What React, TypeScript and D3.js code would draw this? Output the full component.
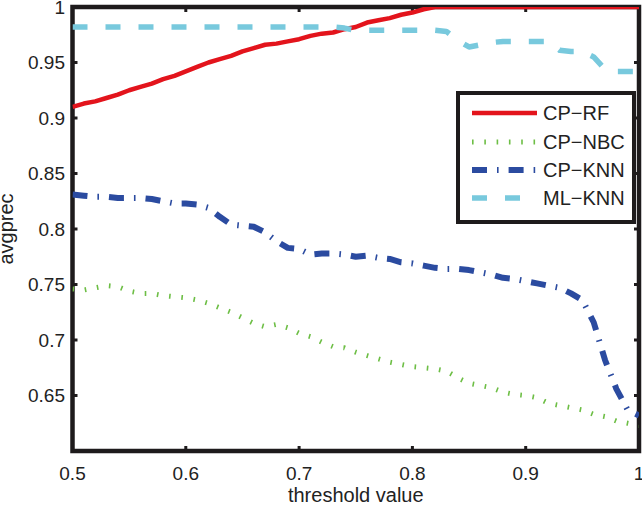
import * as d3 from 'd3'

const thresholds = [
  0.50, 0.51, 0.52, 0.53, 0.54, 0.55, 0.56, 0.57, 0.58, 0.59,
  0.60, 0.61, 0.62, 0.63, 0.64, 0.65, 0.66, 0.67, 0.68, 0.69,
  0.70, 0.71, 0.72, 0.73, 0.74, 0.75, 0.76, 0.77, 0.78, 0.79,
  0.80, 0.81, 0.82, 0.83, 0.84, 0.85, 0.86, 0.87, 0.88, 0.89,
  0.90, 0.91, 0.92, 0.93, 0.94, 0.95, 0.96, 0.97, 0.98, 0.99, 1.00,
]

const cpRF = [
  0.910, 0.913, 0.915, 0.918, 0.921, 0.925, 0.928, 0.931, 0.935, 0.938,
  0.942, 0.946, 0.950, 0.953, 0.956, 0.960, 0.963, 0.966, 0.967, 0.969,
  0.971, 0.974, 0.976, 0.977, 0.980, 0.982, 0.986, 0.988, 0.990, 0.993,
  0.995, 0.998, 1.000, 1.000, 1.000, 1.000, 1.000, 1.000, 1.000, 1.000,
  1.000, 1.000, 1.000, 1.000, 1.000, 1.000, 1.000, 1.000, 1.000, 1.000, 1.000,
]

const cpNBC = [
  0.746, 0.745, 0.747, 0.749, 0.748, 0.744, 0.742, 0.742, 0.740, 0.739,
  0.738, 0.736, 0.733, 0.729, 0.725, 0.720, 0.715, 0.712, 0.714, 0.711,
  0.706, 0.703, 0.698, 0.694, 0.693, 0.689, 0.686, 0.683, 0.680, 0.678,
  0.676, 0.675, 0.674, 0.672, 0.666, 0.661, 0.659, 0.657, 0.653, 0.651,
  0.650, 0.648, 0.643, 0.641, 0.639, 0.637, 0.633, 0.631, 0.627, 0.625, 0.623,
]

const cpKNN = [
  0.831, 0.830, 0.829, 0.829, 0.828, 0.828, 0.828, 0.827, 0.825, 0.823,
  0.823, 0.822, 0.819, 0.811, 0.804, 0.803, 0.802, 0.797, 0.789, 0.783,
  0.782, 0.777, 0.778, 0.778, 0.777, 0.775, 0.776, 0.774, 0.773, 0.770,
  0.769, 0.767, 0.765, 0.764, 0.764, 0.763, 0.761, 0.759, 0.756, 0.755,
  0.753, 0.751, 0.749, 0.747, 0.742, 0.736, 0.716, 0.682, 0.656, 0.637, 0.632,
]

const mlKNN = [
  0.982, 0.982, 0.982, 0.982, 0.982, 0.982, 0.982, 0.982, 0.982, 0.982,
  0.982, 0.982, 0.982, 0.982, 0.982, 0.982, 0.982, 0.982, 0.982, 0.982,
  0.982, 0.982, 0.982, 0.982, 0.981, 0.979, 0.979, 0.979, 0.979, 0.979,
  0.979, 0.979, 0.979, 0.978, 0.970, 0.964, 0.966, 0.968, 0.969, 0.969,
  0.969, 0.969, 0.969, 0.961, 0.960, 0.960, 0.955, 0.944, 0.942, 0.942, 0.942,
]

const xTicks = [0.5, 0.6, 0.7, 0.8, 0.9, 1]
const yTicks = [0.65, 0.7, 0.75, 0.8, 0.85, 0.9, 0.95, 1]

const seriesNames = ['CP\u2212RF', 'CP\u2212NBC', 'CP\u2212KNN', 'ML\u2212KNN']

// line styles roughly matching the matlab export
const styles = [
  { color: '#e3141c', width: 4.5, dash: null },
  { color: '#6dbe45', width: 5, dash: '1.6 10.7' },
  { color: '#2b4ba0', width: 6, dash: '15 10 1.6 10' },
  { color: '#78c9dd', width: 5.5, dash: '15 18' },
]

const FONT = '"Liberation Sans", Arial, Helvetica, sans-serif'

export default function App() {
  const W = 642
  const H = 505
  const left = 72.5
  const right = 639
  const top = 7
  const bottom = 451

  const x = d3.scaleLinear().domain([0.5, 1]).range([left, right])
  const y = d3.scaleLinear().domain([0.6, 1]).range([bottom, top])

  const line = d3.line<[number, number]>()
    .x(d => x(d[0]))
    .y(d => y(d[1]))

  const allSeries = [cpRF, cpNBC, cpKNN, mlKNN]
  const frameColor = '#1e1b1c'

  // legend box
  const lg = { x0: 458, y0: 93, x1: 634, y1: 222 }
  const legendRows = [113, 142, 170, 198]

  return (
    <svg
      width={W}
      height={H}
      style={{ position: 'absolute', left: 0, top: 0, background: '#fff' }}
      fontFamily={FONT}
    >
      <defs>
        <clipPath id="plotClip">
          <rect x={left} y={top} width={right - left} height={bottom - top} />
        </clipPath>
      </defs>

      {/* frame */}
      <rect
        x={left}
        y={top}
        width={right - left}
        height={bottom - top}
        fill="none"
        stroke={frameColor}
        strokeWidth={4.5}
      />

      {/* ticks */}
      {xTicks.filter(t => t > 0.5 && t < 1).map(t => (
        <g key={'xt' + t}>
          <line x1={x(t)} x2={x(t)} y1={bottom} y2={bottom - 5} stroke={frameColor} strokeWidth={3} />
          <line x1={x(t)} x2={x(t)} y1={top} y2={top + 5} stroke={frameColor} strokeWidth={3} />
        </g>
      ))}
      {yTicks.filter(t => t < 1).map(t => (
        <g key={'yt' + t}>
          <line x1={left} x2={left + 5} y1={y(t)} y2={y(t)} stroke={frameColor} strokeWidth={3} />
          <line x1={right} x2={right - 5} y1={y(t)} y2={y(t)} stroke={frameColor} strokeWidth={3} />
        </g>
      ))}

      {/* tick labels */}
      {xTicks.map(t => (
        <text key={'xl' + t} x={x(t)} y={480} textAnchor="middle" fontSize={19} fill="#222">
          {String(t)}
        </text>
      ))}
      {yTicks.map(t => (
        <text key={'yl' + t} x={65} y={y(t)} dy="0.36em" textAnchor="end" fontSize={19} fill="#222">
          {String(t)}
        </text>
      ))}

      {/* axis titles */}
      <text x={(left + right) / 2} y={502} textAnchor="middle" fontSize={20} fill="#222">
        threshold value
      </text>
      <text transform={`translate(13,${(top + bottom) / 2}) rotate(-90)`} textAnchor="middle" fontSize={20} fill="#222">
        avgprec
      </text>

      {/* series */}
      <g clipPath="url(#plotClip)">
        {allSeries.map((vals, i) => {
          const pts = thresholds.map((t, j) => [t, vals[j]] as [number, number])
          const s = styles[i]
          return (
            <path
              key={seriesNames[i]}
              d={line(pts) || ''}
              fill="none"
              stroke={s.color}
              strokeWidth={s.width}
              strokeDasharray={s.dash || undefined}
              strokeLinejoin="round"
            />
          )
        })}
      </g>

      {/* legend */}
      <rect
        x={lg.x0}
        y={lg.y0}
        width={lg.x1 - lg.x0}
        height={lg.y1 - lg.y0}
        fill="#fff"
        stroke={frameColor}
        strokeWidth={4}
      />
      {seriesNames.map((name, i) => {
        const s = styles[i]
        const ly = legendRows[i]
        return (
          <g key={'lg' + name}>
            <line
              x1={472}
              x2={537}
              y1={ly}
              y2={ly}
              stroke={s.color}
              strokeWidth={s.width}
              strokeDasharray={s.dash || undefined}
            />
            <text x={543} y={ly} dy="0.36em" fontSize={20} fill="#222">
              {name}
            </text>
          </g>
        )
      })}
    </svg>
  )
}
